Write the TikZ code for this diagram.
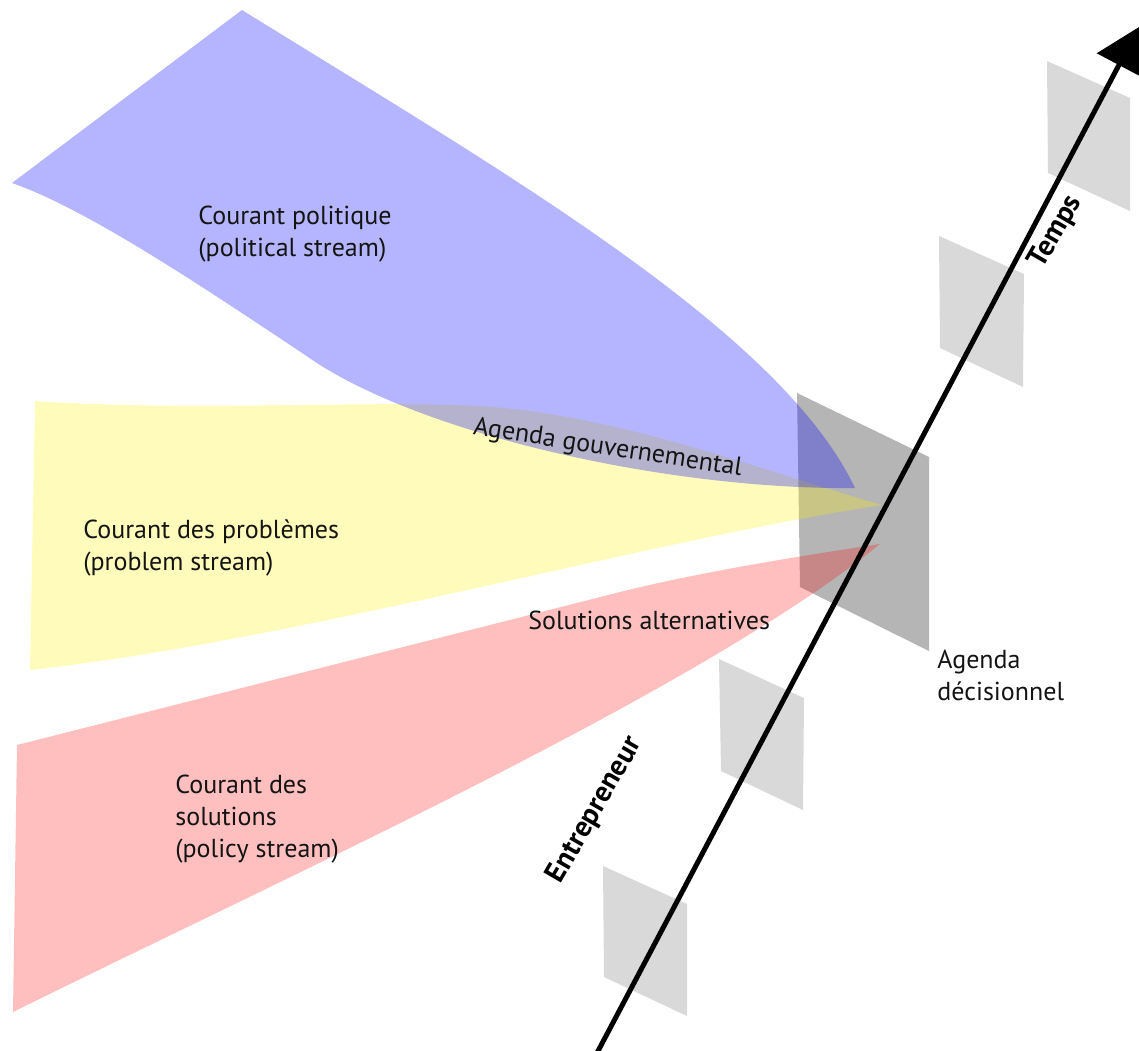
\documentclass[tikz,border=0pt]{standalone}
\usepackage{fontspec}
\setmainfont{PT Sans}
\usetikzlibrary{arrows.meta}
\definecolor{panelL}{RGB}{217,217,217}
\definecolor{panelD}{RGB}{181,181,181}
\definecolor{txt}{RGB}{20,20,20}
\begin{document}
\begin{tikzpicture}[x=0.5pt,y=-0.5pt,
  lbl/.style={font=\fontsize{13}{16}\selectfont, text=txt, inner sep=0pt, align=left},
  boldlbl/.style={font=\fontsize{14.5}{16}\selectfont\bfseries, text=black, inner sep=0pt},
  lightpanel/.style={fill=panelL},
  darkpanel/.style={fill=panelD},
  streamblue/.style={fill=blue, fill opacity=0.29},
  streamyellow/.style={fill=yellow, fill opacity=0.27},
  streamred/.style={fill=red, fill opacity=0.25},
  timeline/.style={line width=2.5pt, -{Triangle[length=21.5pt,width=24.5pt]}}
]
\useasboundingbox (0,0) rectangle (1139,1050);
\clip (0,0) rectangle (1139,1050);

% panels
\fill[lightpanel] (1047,61) -- (1130,98) -- (1130,211) -- (1048,173) -- cycle;
\fill[lightpanel] (939,236) -- (1024,274) -- (1023,387) -- (940,348) -- cycle;
\fill[lightpanel] (719,659) -- (804,698) -- (803,810) -- (721,771) -- cycle;
\fill[lightpanel] (603,866) -- (687,904) -- (687,1016) -- (604,977) -- cycle;
\fill[darkpanel] (797,393) -- (929,457) -- (929,651) -- (800,587) -- cycle;

% streams
\fill[streamyellow] (35,401) .. controls (200,412) and (350,400) .. (480,406)
  .. controls (620,415) and (760,470) .. (882,505)
  .. controls (650,540) and (300,640) .. (30,670) -- cycle;
\fill[streamblue] (12,183) -- (242,10) .. controls (500,170) and (780,330) .. (855,488)
  .. controls (680,490) and (440,440) .. (320,365)
  .. controls (215,295) and (90,210) .. (12,183) -- cycle;
\fill[streamred] (17,745) -- (620,592) .. controls (700,572) and (800,556) .. (880,544)
  .. controls (700,690) and (300,870) .. (13,1012) -- cycle;

% time axis
\coordinate (t0) at (597.5,1052);
\coordinate (t1) at (1139,27);
\draw[timeline] (t0) -- (t1);

% labels (base anchor = baseline of the last line)
\node[lbl, anchor=base west] (pol) at (198,256) {Courant politique\\(political stream)};
\node[lbl, anchor=base west] (prob) at (83,570) {Courant des problèmes\\(problem stream)};
\node[lbl, anchor=base west] (sol) at (175,857) {Courant des\\solutions\\(policy stream)};
\node[lbl, anchor=base, rotate=-8.75] (gouv) at (606.7,455) {Agenda gouvernemental};
\node[lbl, anchor=base west] (alt) at (528,629) {Solutions alternatives};
\node[lbl, anchor=base west] (dec) at (937,700) {Agenda\\décisionnel};
\node[boldlbl, rotate=60] (ent) at (595,810) {Entrepreneur};
\node[boldlbl, rotate=60] (temps) at (1056,232) {Temps};
\end{tikzpicture}
\end{document}
